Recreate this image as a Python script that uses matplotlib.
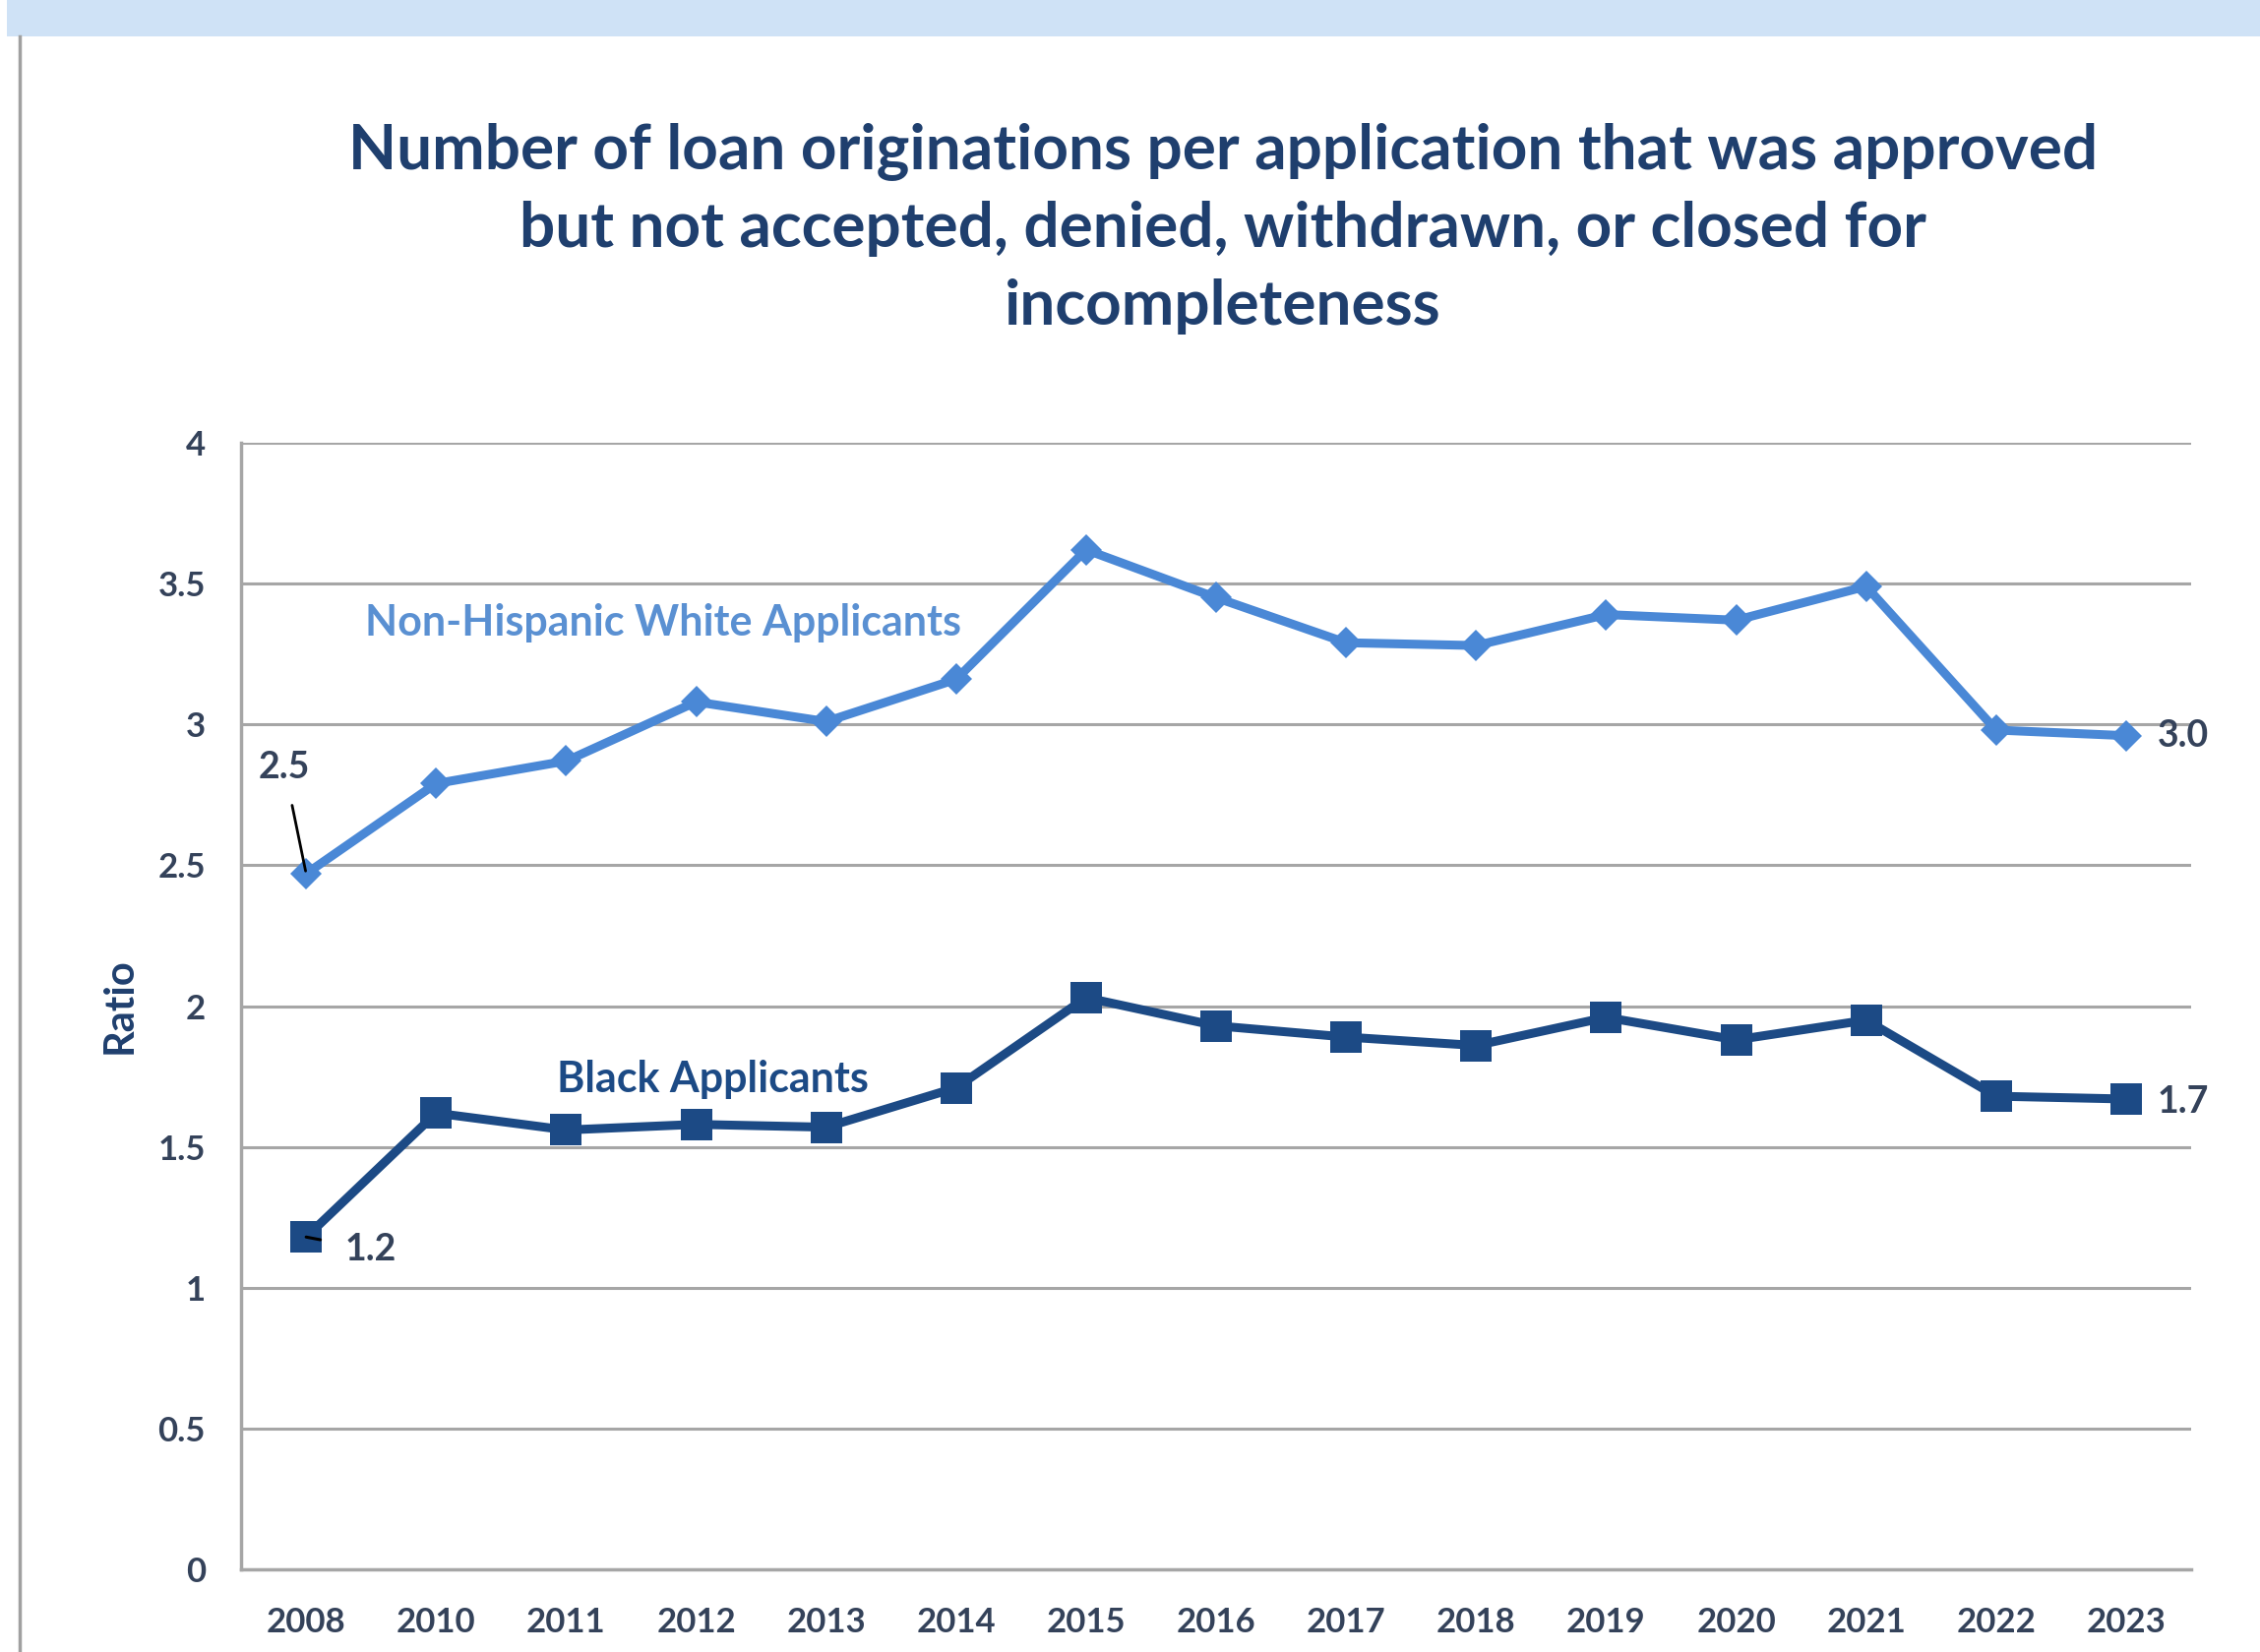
import matplotlib
matplotlib.use("Agg")
import matplotlib.pyplot as plt
from matplotlib.patches import Rectangle
from matplotlib.lines import Line2D

plt.rcParams['font.family'] = ['Lato', 'DejaVu Sans']

years = ["2008", "2010", "2011", "2012", "2013", "2014", "2015", "2016",
         "2017", "2018", "2019", "2020", "2021", "2022", "2023"]
white_ratio = [2.47, 2.79, 2.87, 3.08, 3.01, 3.16, 3.62, 3.45,
               3.29, 3.28, 3.39, 3.37, 3.49, 2.98, 2.96]
black_ratio = [1.18, 1.62, 1.56, 1.58, 1.57, 1.71, 2.03, 1.93,
               1.89, 1.86, 1.96, 1.88, 1.95, 1.68, 1.67]
y_ticks = [0, 0.5, 1, 1.5, 2, 2.5, 3, 3.5, 4]
y_tick_labels = ["0", "0.5", "1", "1.5", "2", "2.5", "3", "3.5", "4"]

title = ("Number of loan originations per application that was approved\n"
         "but not accepted, denied, withdrawn, or closed for\n"
         "incompleteness")

WHITE_C = "#4a88d6"
BLACK_C = "#1c4a85"
TEXT_C = "#1f3f6e"
TICK_C = "#34425a"
GRID_C = "#a6a6a6"

fig = plt.figure(figsize=(22.97, 16.79), dpi=100)

# light blue header band and left rule of the page
fig.patches.append(Rectangle((0.003, 0.978), 0.997, 0.022, transform=fig.transFigure,
                             facecolor="#cfe2f6", edgecolor="none", zorder=0))
fig.lines.append(Line2D([0.0088, 0.0088], [0.0, 0.978], transform=fig.transFigure,
                        color="#a0a0a0", lw=2.5))

ax = fig.add_axes([0.1067, 0.050, 0.8628, 0.682])
x = list(range(len(years)))

ax.plot(x, white_ratio, color=WHITE_C, lw=6.5, marker="D", markersize=16,
        markeredgewidth=0, zorder=3)
ax.plot(x, black_ratio, color=BLACK_C, lw=6.5, marker="s", markersize=23,
        markeredgewidth=0, zorder=3)

ax.set_xlim(-0.5, len(years) - 0.5)
ax.set_ylim(0, 4)
ax.set_yticks(y_ticks)
ax.set_yticklabels(y_tick_labels)
ax.set_xticks(x)
ax.set_xticklabels(years)
ax.grid(axis="y", color=GRID_C, lw=2.2)
ax.set_axisbelow(True)
for s in ["top", "right"]:
    ax.spines[s].set_visible(False)
for s in ["left", "bottom"]:
    ax.spines[s].set_color(GRID_C)
    ax.spines[s].set_linewidth(2.5)
ax.tick_params(length=0, labelsize=25, labelcolor=TICK_C)
ax.tick_params(axis="x", pad=27)
ax.tick_params(axis="y", pad=26)
for lab in ax.get_xticklabels() + ax.get_yticklabels():
    lab.set_fontweight("bold")

ax.set_ylabel("Ratio", fontsize=30, fontweight="bold", color=TEXT_C, labelpad=14)

fig.text(0.541, 0.862, title, ha="center", va="center", fontsize=46,
         fontweight="bold", color=TEXT_C, linespacing=1.46)

# series names
ax.text(2.75, 3.36, "Non-Hispanic White Applicants", color="#5a90d2",
        fontsize=31, fontweight="bold", ha="center", va="center")
ax.text(3.13, 1.74, "Black Applicants", color=BLACK_C,
        fontsize=31, fontweight="bold", ha="center", va="center")

# end-point value labels
lab_kw = dict(fontsize=27, fontweight="bold", color=TICK_C, textcoords="offset points")
ax.annotate(f"{white_ratio[0]:.1f}", xy=(0, white_ratio[0]), xytext=(-16, 78),
            ha="center", va="center",
            arrowprops=dict(arrowstyle="-", color="black", lw=2,
                            shrinkA=14, shrinkB=2), **lab_kw)
ax.annotate(f"{black_ratio[0]:.1f}", xy=(0, black_ratio[0]), xytext=(47, -9),
            ha="center", va="center",
            arrowprops=dict(arrowstyle="-", color="black", lw=2.2,
                            shrinkA=16, shrinkB=0), **lab_kw)
ax.annotate(f"{white_ratio[-1]:.1f}", xy=(14, white_ratio[-1]), xytext=(42, 0),
            ha="center", va="center", **lab_kw)
ax.annotate(f"{black_ratio[-1]:.1f}", xy=(14, black_ratio[-1]), xytext=(42, -2),
            ha="center", va="center", **lab_kw)

fig.savefig("out.png", dpi=100, facecolor="white")
